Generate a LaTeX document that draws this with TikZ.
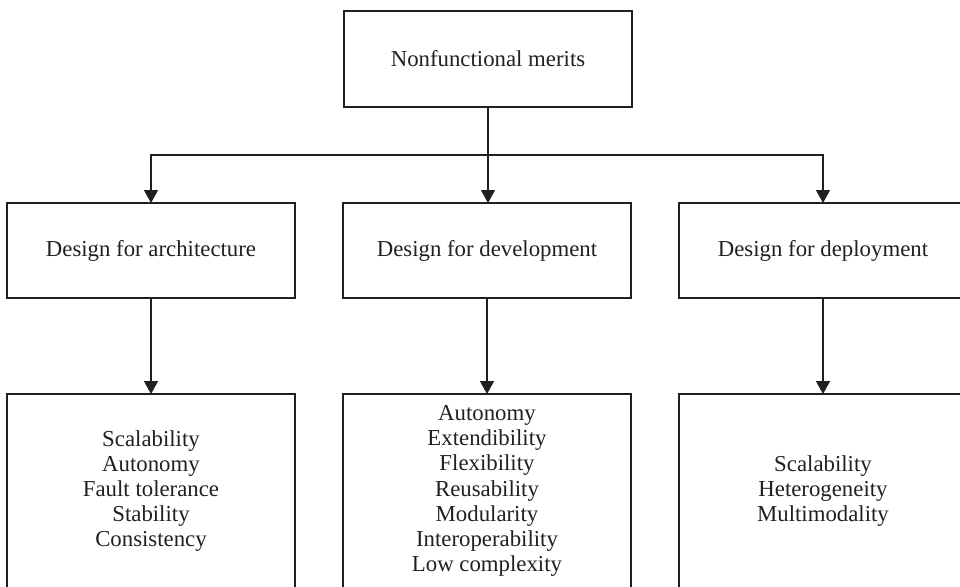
\documentclass[tikz,border=0pt]{standalone}
\usepackage{fontspec}
\setmainfont{Liberation Serif}
\usetikzlibrary{arrows.meta}
\definecolor{ink}{HTML}{231F20}
\begin{document}
\begin{tikzpicture}[x=0.5pt,y=-0.5pt,
  box/.style={draw=ink,line width=0.7pt,text=ink,inner sep=2pt,outer sep=0pt,
    minimum width=144pt,align=center,font=\fontsize{11.4pt}{12.6pt}\selectfont},
  headbox/.style={box,minimum height=48pt},
  midbox/.style={box,minimum height=47.5pt},
  listbox/.style={box,minimum height=97pt},
  link/.style={draw=ink,line width=0.7pt},
  arrow/.style={link,-{Triangle[width=7pt,length=6.5pt]}}]
  \useasboundingbox (0,0) rectangle (960,586);
  \clip (0,0) rectangle (960,586);

  % root
  \node[headbox] (root) at (488,59) {Nonfunctional merits};

  % three design aspects
  \node[midbox] (arch) at (151,250.5) {Design for architecture};
  \node[midbox] (dev)  at (487,250.5) {Design for development};
  \node[midbox] (dep)  at (823,250.5) {Design for deployment};

  % merits of each aspect
  \node[listbox] (archl) at (151,491) {Scalability\\Autonomy\\Fault tolerance\\Stability\\Consistency};
  \node[listbox] (devl)  at (487,491) {Autonomy\\Extendibility\\Flexibility\\Reusability\\Modularity\\Interoperability\\Low complexity};
  \node[listbox] (depl)  at (823,491) {Scalability\\Heterogeneity\\Multimodality};

  % connectors
  \coordinate (bus) at (488,155);
  \draw[link] (root.south) -- (bus);
  \draw[arrow] (bus) -| (arch.north);
  \draw[arrow] (bus) -| (dep.north);
  \draw[arrow] (bus) -- (bus |- dev.north);
  \draw[arrow] (arch.south) -- (archl.north);
  \draw[arrow] (dev.south) -- (devl.north);
  \draw[arrow] (dep.south) -- (depl.north);
\end{tikzpicture}
\end{document}
